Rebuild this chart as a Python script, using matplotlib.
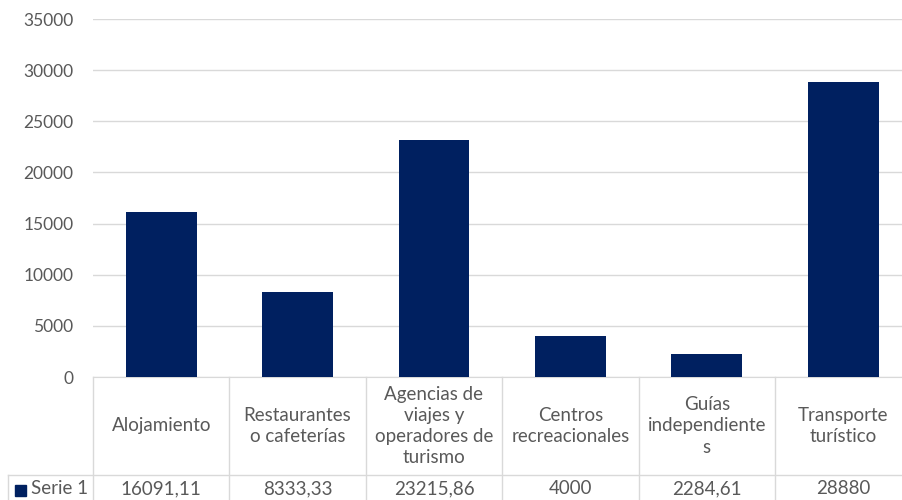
import matplotlib
matplotlib.use("Agg")
import matplotlib.pyplot as plt
import matplotlib.transforms as mtransforms

# ── Data ───────────────────────────────────────────────────────────────────
categories = [
    "Alojamiento",
    "Restaurantes\no cafeterías",
    "Agencias de\nviajes y\noperadores de\nturismo",
    "Centros\nrecreacionales",
    "Guías\nindependiente\ns",
    "Transporte\nturístico",
]
values = [16091.11, 8333.33, 23215.86, 4000, 2284.61, 28880]
value_labels = ["16091,11", "8333,33", "23215,86", "4000", "2284,61", "28880"]
series_name = "Serie 1"
yticks = [0, 5000, 10000, 15000, 20000, 25000, 30000, 35000]

# ── Style ──────────────────────────────────────────────────────────────────
BAR_COL = "#002060"
TEXT = "#595959"
GRID = "#d9d9d9"
FS = 13.5
plt.rcParams["font.family"] = ["Lato", "DejaVu Sans"]

W, H = 902, 500
fig = plt.figure(figsize=(W / 100, H / 100), dpi=100)


def fy(py):
    return 1 - py / H


x_left, x_right = 93, 93 + 6 * 136.4
ax = fig.add_axes([x_left / W, fy(377), (x_right - x_left) / W, fy(19) - fy(377)])

xs = list(range(len(values)))
ax.bar(xs, values, width=0.52, color=BAR_COL, zorder=3)
ax.set_xlim(-0.5, len(values) - 0.5)
ax.set_ylim(0, 35000)
ax.set_yticks(yticks)
ax.set_yticklabels([str(t) for t in yticks])
ax.yaxis.grid(True, color=GRID, linewidth=1)
ax.set_axisbelow(True)
ax.tick_params(axis="y", length=0, pad=14, labelsize=12.5, labelcolor=TEXT)
ax.tick_params(axis="x", length=0, labelbottom=False)
for s in ("top", "right", "left"):
    ax.spines[s].set_visible(False)
ax.spines["bottom"].set_color(GRID)

# ── Data table below the axis ──────────────────────────────────────────────
trans = mtransforms.blended_transform_factory(ax.transData, fig.transFigure)
line_kw = dict(color=GRID, linewidth=1, clip_on=False)

# vertical cell borders
for b in [i - 0.5 for i in range(len(values) + 1)]:
    fig.add_artist(plt.Line2D([b, b], [fy(377), fy(500)], transform=trans, **line_kw))
# row separator running under the legend cell too
fig.add_artist(plt.Line2D([8 / W, 1.02], [fy(475), fy(475)], transform=fig.transFigure, **line_kw))
fig.add_artist(plt.Line2D([8 / W, 8 / W], [fy(475), fy(500)], transform=fig.transFigure, **line_kw))

for x, cat, lab in zip(xs, categories, value_labels):
    fig.text(x, fy(426), cat, transform=trans, ha="center", va="center",
             fontsize=FS, color=TEXT, linespacing=1.3)
    fig.text(x, fy(489), lab, transform=trans, ha="center", va="center",
             fontsize=FS, color=TEXT)

# legend key in the row header
fig.add_artist(plt.Rectangle((15 / W, fy(496)), 11 / W, 11 / H, transform=fig.transFigure,
                             color=BAR_COL))
fig.text(31 / W, fy(489), series_name, ha="left", va="center", fontsize=FS, color=TEXT)

fig.savefig("out.png", dpi=100, facecolor="white")
